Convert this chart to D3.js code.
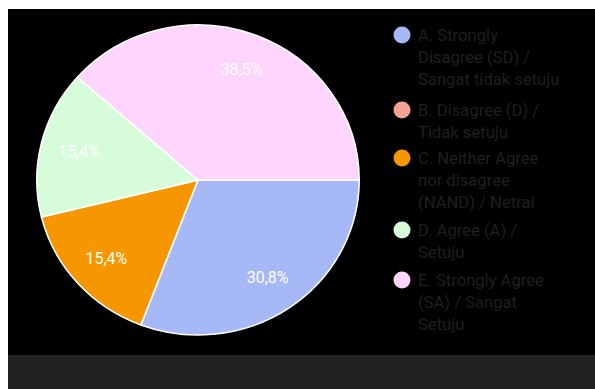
<!DOCTYPE html>
<html>
<head>
<meta charset="utf-8">
<script src="https://cdn.jsdelivr.net/npm/d3@7"></script>
<style>
  body { margin: 0; background: #fff; }
  svg { display: block; }
</style>
</head>
<body>
<svg width="595" height="389"></svg>
<script>
// answers (13 responses)
const categories = [
  "A. Strongly Disagree (SD) / Sangat tidak setuju",
  "B. Disagree (D) / Tidak setuju",
  "C. Neither Agree nor disagree (NAND) / Netral",
  "D. Agree (A) / Setuju",
  "E. Strongly Agree (SA) / Sangat Setuju"
];
const counts = [4, 0, 2, 2, 5];
const colors = ["#a6b8f6", "#f5a295", "#f69600", "#d6fcd9", "#fdd5fd"];
// legend text already wrapped like the screenshot
const legendLines = [
  ["A. Strongly", "Disagree (SD) /", "Sangat tidak setuju"],
  ["B. Disagree (D) /", "Tidak setuju"],
  ["C. Neither Agree", "nor disagree", "(NAND) / Netral"],
  ["D. Agree (A) /", "Setuju"],
  ["E. Strongly Agree", "(SA) / Sangat", "Setuju"]
];

const svg = d3.select("svg");
const width = +svg.attr("width");
const height = +svg.attr("height");

// background panels
svg.append("rect").attr("x", 8).attr("y", 9).attr("width", width - 8).attr("height", 346).attr("fill", "#000");
svg.append("rect").attr("x", 8).attr("y", 355).attr("width", width - 8).attr("height", height - 355).attr("fill", "#212121");

const data = categories.map((c, i) => ({name: c, value: counts[i], color: colors[i]}));
const total = d3.sum(counts);

const pie = d3.pie()
  .sort(null)
  .value(d => d.value)
  .startAngle(Math.PI / 2)
  .endAngle(Math.PI / 2 + 2 * Math.PI);

const r = 155;
const arc = d3.arc().innerRadius(0).outerRadius(r);
const labelArc = d3.arc().innerRadius(r * 0.76).outerRadius(r * 0.76);

const g = svg.append("g")
  .attr("transform", "translate(198,180) scale(1.04,1)");

const slices = pie(data).filter(d => d.data.value > 0);

g.selectAll("path")
  .data(slices)
  .enter()
  .append("path")
  .attr("d", arc)
  .attr("fill", d => d.data.color)
  .attr("stroke", "#fff")
  .attr("stroke-width", 1.5);

g.selectAll("text")
  .data(slices)
  .enter()
  .append("text")
  .attr("transform", d => {
    const c = labelArc.centroid(d);
    return "translate(" + c[0] + "," + c[1] + ") scale(0.96,1)";
  })
  .attr("text-anchor", "middle")
  .attr("dy", "0.35em")
  .attr("fill", "#fff")
  .style("font-family", "Roboto, sans-serif")
  .style("font-size", "16px")
  .text(d => (d.data.value / total * 100).toFixed(1).replace(".", ",") + "%");

// legend
const legendY = [35, 110, 158, 230, 280];
const lineH = 22.3;
const legend = svg.append("g");
data.forEach((d, i) => {
  const item = legend.append("g").attr("transform", "translate(402," + legendY[i] + ")");
  item.append("circle").attr("r", 8.5).attr("fill", d.color);
  item.append("text")
    .attr("x", 16)
    .attr("fill", "#1f1f1f")
    .style("font-family", "Roboto, sans-serif")
    .style("font-size", "16.6px")
    .selectAll("tspan")
    .data(legendLines[i])
    .enter()
    .append("tspan")
    .attr("x", 16)
    .attr("y", (l, j) => j * lineH)
    .attr("dy", "0.35em")
    .text(l => l);
});
</script>
</body>
</html>
